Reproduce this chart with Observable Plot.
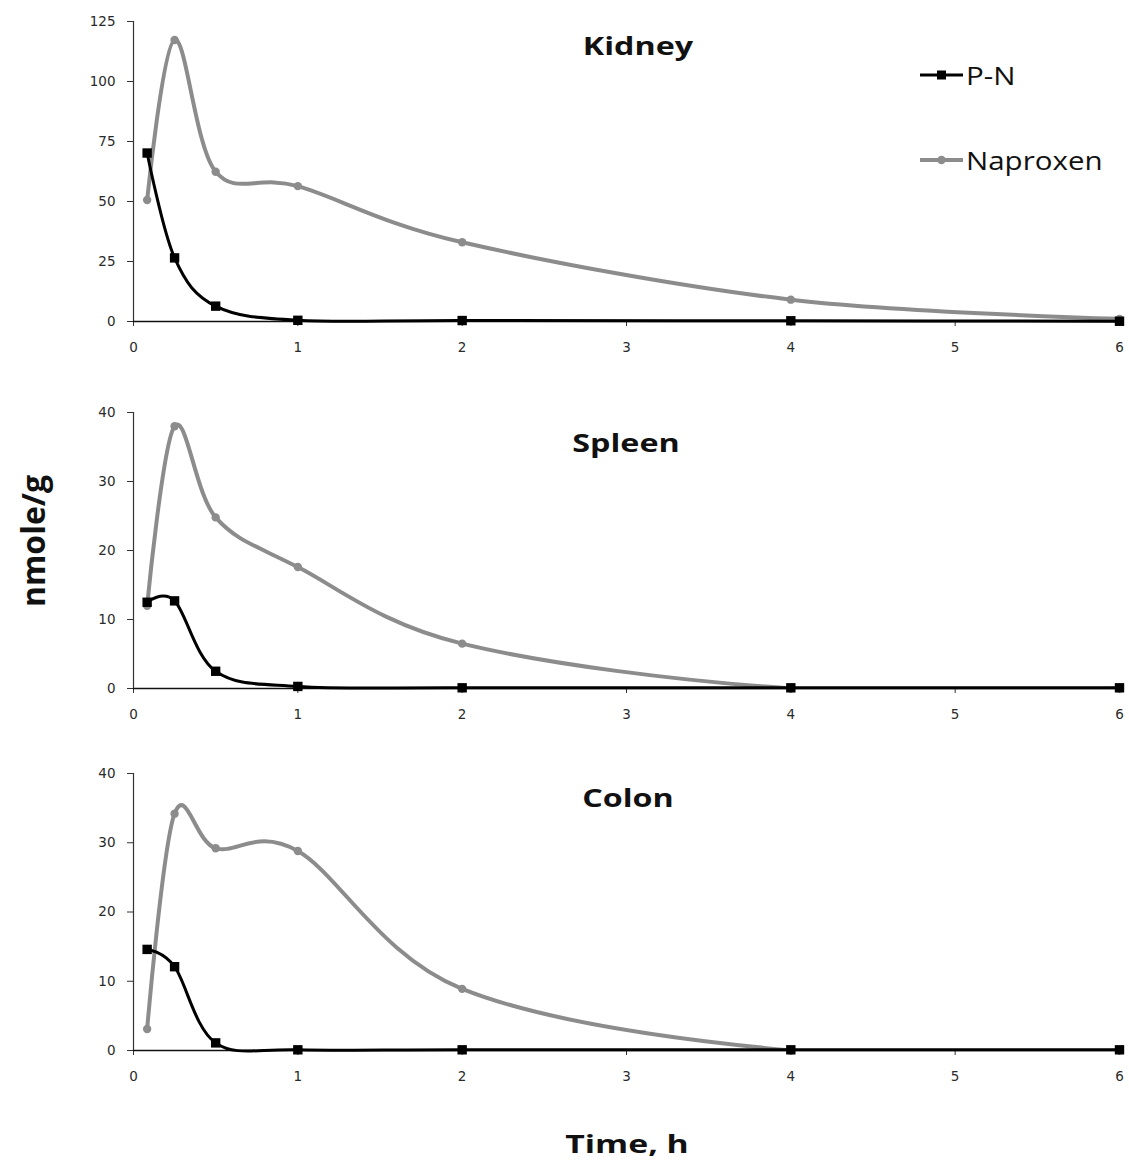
<!DOCTYPE html>
<html>
<head>
<meta charset="utf-8">
<script src="https://cdn.jsdelivr.net/npm/d3@7"></script>
<script src="https://cdn.jsdelivr.net/npm/@observablehq/plot@0.6"></script>
<style>
  body { margin: 0; background: #fff; }
  #chart { position: relative; width: 1129px; height: 1162px; overflow: hidden; background: #fff; }
  .panel { position: absolute; left: 0; }
  .title, .axis-label, .legend-item {
    position: absolute; white-space: nowrap; color: #111;
    font-family: "Open Sans", sans-serif; line-height: 1;
  }
  .title { font-weight: 700; font-size: 25px; transform: translate(-50%, -50%) scaleX(1.29); }
  .axis-label { font-weight: 700; font-size: 25px; transform: translate(-50%, -50%) scaleX(1.35); }
  .axis-label.y { font-size: 32px; transform: translate(-50%, -50%) rotate(-90deg); }
  .legend-item { display: flex; align-items: center; font-size: 25px; transform: translateY(-50%); }
  .legend-item span { display: inline-block; transform-origin: 0 50%; transform: scaleX(1.18); }
  .legend-item svg { margin-right: 2px; }
</style>
</head>
<body>
<div id="chart"></div>
<script>
// Sampling times (h) and tissue concentrations (nmole/g)
const times = [0.083, 0.25, 0.5, 1, 2, 4, 6];
const xTicks = [0, 1, 2, 3, 4, 5, 6];

const kidneyPN       = [70.2, 26.5, 6.4, 0.5, 0.4, 0.3, 0.1];
const kidneyNaproxen = [50.6, 117.3, 62.4, 56.4, 33.0, 9.1, 1.1];
const spleenPN       = [12.5, 12.7, 2.5, 0.3, 0.1, 0.1, 0.1];
const spleenNaproxen = [12.0, 38.0, 24.8, 17.6, 6.5, 0.0, 0.0];
const colonPN        = [14.6, 12.1, 1.1, 0.1, 0.1, 0.1, 0.1];
const colonNaproxen  = [3.1, 34.2, 29.2, 28.8, 8.9, 0.0, 0.0];

const kidneyTicks = [0, 25, 50, 75, 100, 125];
const spleenTicks = [0, 10, 20, 30, 40];
const colonTicks  = [0, 10, 20, 30, 40];

const seriesNames = ["P-N", "Naproxen"];
const colors = { "P-N": "#000000", "Naproxen": "#8c8c8c" };

const chart = document.getElementById("chart");

function rows(values) {
  return times.map((t, i) => ({ t, v: values[i] }));
}

function panel({ name, pn, nap, yTicks, top, height, marginTop, marginBottom, titleX, titleY }) {
  const napRows = rows(nap);
  const pnRows = rows(pn);
  const yMax = yTicks[yTicks.length - 1];
  const svg = Plot.plot({
    width: 1129,
    height,
    marginLeft: 133,
    marginRight: 10,
    marginTop,
    marginBottom,
    style: { fontFamily: "'DejaVu Sans', sans-serif", fontSize: "13.5px", color: "#2a2a2a", background: "transparent" },
    x: { domain: [0, 6] },
    y: { domain: [0, yMax] },
    marks: [
      Plot.axisX({ ticks: xTicks, tickFormat: "d", tickSize: 5, tickPadding: 16, label: null, stroke: "#333" }),
      Plot.axisY({ ticks: yTicks, tickFormat: "d", tickSize: 6, tickPadding: 12, label: null, stroke: "#333" }),
      Plot.ruleX([0], { stroke: "#333", strokeWidth: 1.2 }),
      // smoothed naproxen curve, kept inside the plotting frame
      Plot.line(napRows, { x: "t", y: "v", curve: "cardinal", stroke: colors["Naproxen"], strokeWidth: 4, clip: true }),
      Plot.dot(napRows, { x: "t", y: "v", r: 4.2, fill: colors["Naproxen"], stroke: "none" }),
      Plot.ruleY([0], { stroke: "#111", strokeWidth: 1.6 }),
      Plot.line(pnRows, { x: "t", y: "v", curve: "cardinal", stroke: colors["P-N"], strokeWidth: 3 }),
      Plot.dot(pnRows, { x: "t", y: "v", symbol: "square", r: 5.3, fill: colors["P-N"], stroke: "none" })
    ]
  });
  svg.classList.add("panel");
  svg.style.top = top + "px";
  chart.appendChild(svg);

  const title = document.createElement("div");
  title.className = "title";
  title.textContent = name;
  title.style.left = titleX + "px";
  title.style.top = titleY + "px";
  chart.appendChild(title);
}

panel({ name: "Kidney", pn: kidneyPN, nap: kidneyNaproxen, yTicks: kidneyTicks,
        top: 0, height: 370, marginTop: 21, marginBottom: 49, titleX: 638, titleY: 45 });
panel({ name: "Spleen", pn: spleenPN, nap: spleenNaproxen, yTicks: spleenTicks,
        top: 380, height: 360, marginTop: 32, marginBottom: 52, titleX: 626, titleY: 442 });
panel({ name: "Colon", pn: colonPN, nap: colonNaproxen, yTicks: colonTicks,
        top: 745, height: 345, marginTop: 28, marginBottom: 40, titleX: 628, titleY: 797 });

// Legend
const legendRows = [{ name: seriesNames[0], y: 75, symbol: "square" }, { name: seriesNames[1], y: 160, symbol: "circle" }];
for (const item of legendRows) {
  const div = document.createElement("div");
  div.className = "legend-item";
  div.style.left = "920px";
  div.style.top = item.y + "px";
  const c = colors[item.name];
  const mark = item.symbol === "square"
    ? `<rect x="17" y="5" width="9" height="9" fill="${c}"/>`
    : `<circle cx="21.5" cy="9.5" r="4.2" fill="${c}"/>`;
  div.innerHTML = `<svg width="44" height="19"><line x1="0" x2="43" y1="9.5" y2="9.5" stroke="${c}" stroke-width="${item.symbol === "square" ? 3 : 4}"/>${mark}</svg><span>${item.name}</span>`;
  chart.appendChild(div);
}

// Axis titles
const yLabel = document.createElement("div");
yLabel.className = "axis-label y";
yLabel.textContent = "nmole/g";
yLabel.style.left = "33px";
yLabel.style.top = "541px";
chart.appendChild(yLabel);

const xLabel = document.createElement("div");
xLabel.className = "axis-label";
xLabel.textContent = "Time, h";
xLabel.style.left = "627px";
xLabel.style.top = "1143px";
chart.appendChild(xLabel);
</script>
</body>
</html>
